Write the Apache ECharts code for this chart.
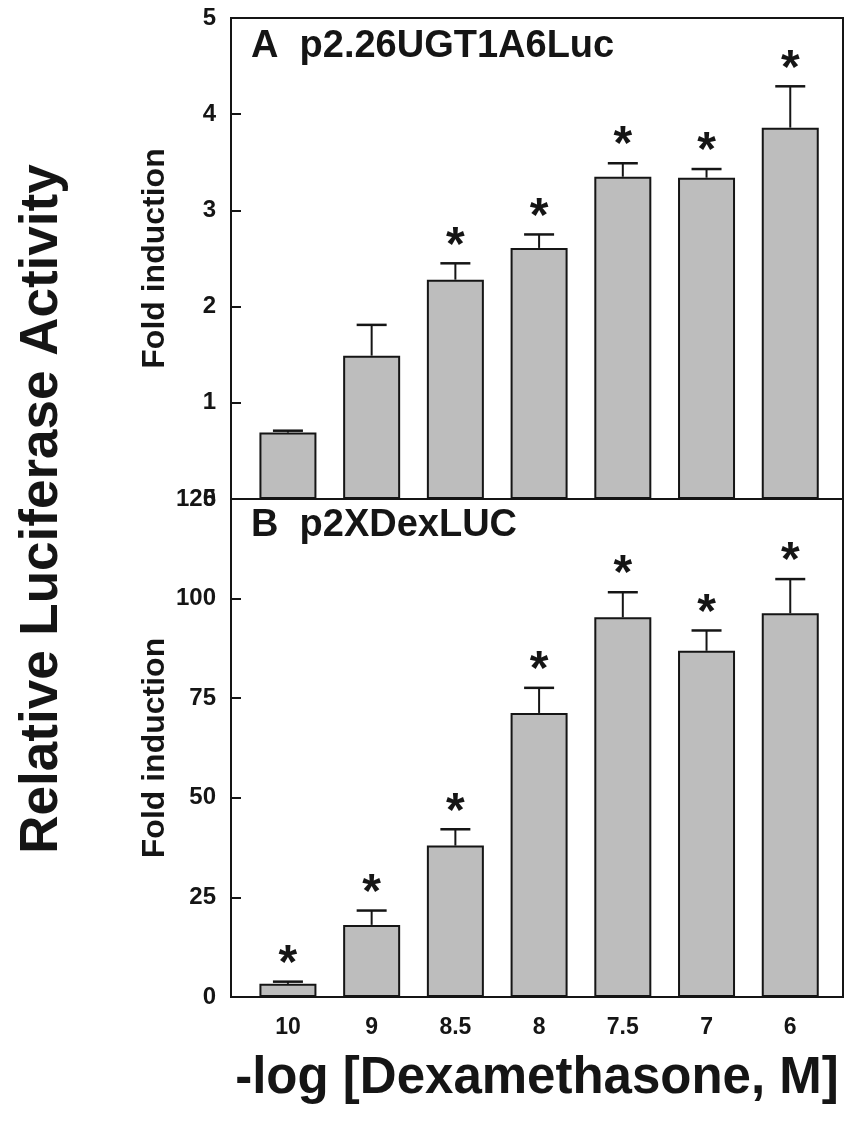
<!DOCTYPE html>
<html>
<head>
<meta charset="utf-8">
<script src="https://cdn.jsdelivr.net/npm/echarts@6/dist/echarts.min.js"></script>
<style>
html,body{margin:0;padding:0;background:#fff;}
#chart{width:848px;height:1133px;}
</style>
</head>
<body>
<div id="chart"></div>
<script>
// ---- data ----
const categories = ['10', '9', '8.5', '8', '7.5', '7', '6'];
const catPos = [1, 2, 3, 4, 5, 6, 7];

// Panel A: p2.26UGT1A6Luc
const meanA = [0.69, 1.49, 2.28, 2.61, 3.35, 3.34, 3.86];
const errA  = [0.02, 0.32, 0.17, 0.14, 0.14, 0.09, 0.43];
const sigA  = [0, 0, 1, 1, 1, 1, 1];
const ticksA = [0, 1, 2, 3, 4, 5];

// Panel B: p2XDexLUC
const meanB = [3.3, 18.1, 38.0, 71.3, 95.3, 86.9, 96.3];
const errB  = [0.55, 3.6, 4.1, 6.3, 6.3, 5.1, 8.6];
const sigB  = [1, 1, 1, 1, 1, 1, 1];
const ticksB = [0, 25, 50, 75, 100, 125];

const FONT = "'Liberation Sans', Arial, Helvetica, sans-serif";
const INK = '#151515';

const chart = echarts.init(document.getElementById('chart'));

function barData(mean) { return catPos.map((x, i) => [x, mean[i]]); }
function errData(mean, err, sig) { return catPos.map((x, i) => [x, mean[i], err[i], sig[i]]); }

function errRender(params, api) {
  const x = api.value(0), m = api.value(1), e = api.value(2), s = api.value(3);
  const p0 = api.coord([x, m]);
  const p1 = api.coord([x, m + e]);
  const children = [
    { type: 'line', shape: { x1: p0[0], y1: p0[1], x2: p1[0], y2: p1[1] }, style: { stroke: INK, lineWidth: 2 } },
    { type: 'line', shape: { x1: p1[0] - 15, y1: p1[1], x2: p1[0] + 15, y2: p1[1] }, style: { stroke: INK, lineWidth: 2.5 } }
  ];
  if (s) {
    children.push({
      type: 'text',
      style: { x: p1[0], y: p1[1] - 17, text: '*', fill: INK, font: 'bold 48px ' + FONT, textAlign: 'center', textVerticalAlign: 'middle' }
    });
  }
  return { type: 'group', children };
}

const xCommon = {
  type: 'value', min: 0.32, max: 7.63,
  splitLine: { show: false },
  axisTick: { show: false },
  axisLine: { show: true, onZero: false, lineStyle: { color: INK, width: 2 } }
};

function yAxis(gridIndex, ticks, name) {
  return {
    type: 'value', gridIndex,
    min: ticks[0], max: ticks[ticks.length - 1], interval: ticks[1] - ticks[0],
    name, nameLocation: 'middle', nameGap: 60, nameRotate: 90, nameMoveOverlap: false,
    nameTextStyle: { fontFamily: FONT, fontWeight: 'bold', fontSize: 32, color: INK },
    splitLine: { show: false },
    axisLine: { show: true, lineStyle: { color: INK, width: 2 } },
    axisTick: { show: true, inside: true, length: 10, lineStyle: { color: INK, width: 2 } },
    axisLabel: { show: true, margin: 15, fontFamily: FONT, fontWeight: 'bold', fontSize: 24, color: INK,
                 showMinLabel: true, showMaxLabel: true }
  };
}

const option = {
  backgroundColor: '#fff',
  animation: false,
  grid: [
    { left: 231, right: 5, top: 18, height: 481, show: true, borderColor: INK, borderWidth: 2 },
    { left: 231, right: 5, top: 499, height: 498, show: true, borderColor: INK, borderWidth: 2 }
  ],
  xAxis: [
    Object.assign({}, xCommon, { gridIndex: 0, axisLabel: { show: false } }),
    Object.assign({}, xCommon, {
      gridIndex: 1,
      axisLabel: {
        show: true, customValues: catPos, margin: 19,
        formatter: v => categories[Math.round(v) - 1] || '',
        fontFamily: FONT, fontWeight: 'bold', fontSize: 23, color: INK
      },
      name: '-log [Dexamethasone, M]', nameLocation: 'middle', nameGap: 56, nameMoveOverlap: false,
      nameTextStyle: { fontFamily: FONT, fontWeight: 'bold', fontSize: 51, color: INK }
    })
  ],
  yAxis: [
    yAxis(0, ticksA, 'Fold induction'),
    yAxis(1, ticksB, 'Fold induction')
  ],
  graphic: [
    { type: 'text', left: 251, top: 28, style: { text: 'A  p2.26UGT1A6Luc', font: 'bold 38px ' + FONT, fill: INK } },
    { type: 'text', left: 251, top: 507, style: { text: 'B  p2XDexLUC', font: 'bold 38px ' + FONT, fill: INK } },
    { type: 'text', x: 42, y: 509, rotation: Math.PI / 2,
      style: { text: 'Relative Luciferase Activity', font: 'bold 53px ' + FONT, fill: INK, textAlign: 'center', textVerticalAlign: 'middle' } }
  ],
  series: [
    { type: 'bar', xAxisIndex: 0, yAxisIndex: 0, data: barData(meanA), barWidth: 57,
      itemStyle: { color: '#bdbdbd', borderColor: INK, borderWidth: 2 }, z: 2 },
    { type: 'custom', xAxisIndex: 0, yAxisIndex: 0, data: errData(meanA, errA, sigA), renderItem: errRender, z: 3, clip: false },
    { type: 'bar', xAxisIndex: 1, yAxisIndex: 1, data: barData(meanB), barWidth: 57,
      itemStyle: { color: '#bdbdbd', borderColor: INK, borderWidth: 2 }, z: 2 },
    { type: 'custom', xAxisIndex: 1, yAxisIndex: 1, data: errData(meanB, errB, sigB), renderItem: errRender, z: 3, clip: false }
  ]
};
chart.setOption(option);
</script>
</body>
</html>
